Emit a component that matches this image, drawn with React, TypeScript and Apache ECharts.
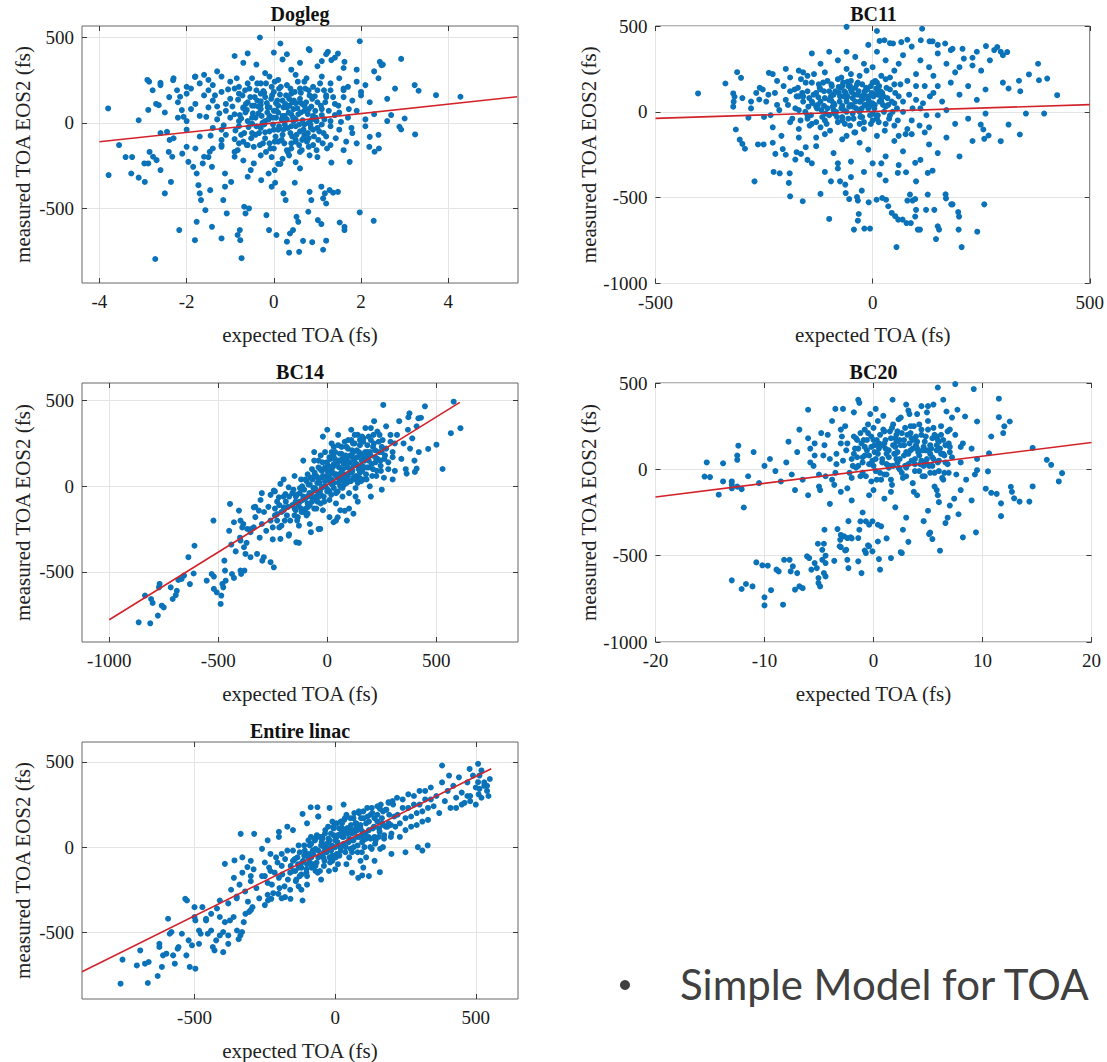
import React, { useEffect, useRef } from "react";
import * as echarts from "echarts";

const FONT = '"Liberation Serif", "Times New Roman", serif';

// ---------- Dogleg ----------
const doglegTitle = "Dogleg";
const doglegXTicks = [-4, -2, 0, 2, 4];
const doglegYTicks = [-500, 0, 500];
const doglegFit = [[-4, -111], [5.58, 152]];
const doglegPoints = [
  [-3.8,84],[-3.79,-305],[-3.55,-130],[-3.4,-200],[-3.25,-200],[-3.27,-296],[-3.1,15],[-3.1,-320],[-2.96,-345],[-2.97,-237],
  [-2.88,-237],[-2.86,240],[-2.88,75],[-2.78,190],[-2.85,-170],[-2.77,-198],[-2.69,-218],[-2.72,-795],[-2.6,-276],[-2.64,103],
  [-2.6,233],[-2.5,-412],[-2.45,-53],[-2.39,-100],[-2.41,-170],[-2.33,-198],[-2.31,249],[-2.36,-345],[-2.17,-626],[-2.22,190],
  [-2.15,152],[-2.11,74],[-2.07,35],[-2.0,-140],[-1.96,-228],[-1.81,-685],[-1.77,-578],[-1.81,268],[-1.77,-296],[-1.7,-412],
  [-1.67,-451],[-1.73,-364],[-1.63,-237],[-1.6,-198],[-1.57,-510],[-1.42,-607],[-1.46,-393],[-1.2,-675],[-1.08,-529],[-1.12,-373],
  [-0.9,-198],[-0.83,-160],[-0.8,-120],[-0.77,-685],[-0.83,-655],[-0.78,-626],[-0.74,-790],[-0.68,-490],[-0.65,-529],[-0.57,-500],
  [-0.32,498],[-0.11,-626],[0.06,-655],[-0.17,-539],[-0.29,-335],[0.15,463],[0.35,-758],[0.3,-694],[0.22,-412],[0.27,-451],
  [0.03,-350],[-0.05,-373],[-0.12,-296],[0.02,-276],[-0.46,-237],[-0.53,-276],[-0.6,-315],[-0.98,-345],[-1.16,-451],[-1.12,-296],
  [-1.42,-257],[-1.2,-130],[-1.47,-169],[-1.85,-257],
  [1.97,476],[1.97,-523],[2.29,-572],[2.92,373],[3.23,220],[3.32,187],[3.72,161],[4.28,152],[3.24,-68],[3.0,25],
  [2.88,-23],[2.92,-39],[2.69,45],[2.78,200],[2.43,356],[2.47,336],[2.31,-169],[2.41,-150],[2.19,-140],[2.2,-82],
  [1.74,-228],[1.32,-232],[1.47,-403],[1.36,-408],[1.17,-412],[1.13,-441],[1.28,-393],[1.09,-373],[1.2,-471],[1.51,-582],
  [1.62,-626],[1.62,-607],[1.13,-741],[1.2,-688],[0.82,-403],[0.86,-451],[0.79,-519],[1.01,-568],[1.09,-591],[0.67,-689],
  [0.88,-697],[0.52,-549],[0.56,-578],[0.44,-626],[0.37,-646],[0.58,-753],[0.48,-350],[0.6,-266],[0.82,424],[1.24,414],
  [1.47,404],[1.32,366],[1.62,356],
  [-1.3,300],[-0.9,390],[-0.6,405],[-0.4,340],[-0.2,290],[0.0,410],[0.2,370],[0.4,310],[0.6,350],[0.8,430],
  [1.0,330],[1.2,400],[1.4,380],[1.6,320],[-1.6,280],[-1.8,270],[-0.7,350],[0.3,400],[1.1,360],[2.5,340],[2.3,300],[1.9,310],
  [-2.3,260],[-2.0,210],[-1.7,230],[-1.5,250],[-1.2,270],[-1.0,240],[-0.8,210],[-0.5,260],[-0.3,230],[-0.1,270],
  [0.1,250],[0.3,220],[0.5,280],[0.7,240],[0.9,210],[1.1,270],[1.3,230],[1.5,260],[1.7,210],[1.9,240],
  [2.1,220],[2.4,260],[-1.9,200],[-1.4,220],[-0.6,230],[0.6,200],[1.6,190],[2.0,180],[-2.6,220],[-2.9,250],
  [-2.4,150],[-2.2,120],[-2.0,170],[-1.8,110],[-1.6,160],[-1.4,130],[-1.2,180],[-1.0,140],[-0.8,170],[-0.6,120],
  [-0.4,190],[-0.2,150],[0.0,180],[0.2,130],[0.4,170],[0.6,140],[0.8,190],[1.0,120],[1.2,160],[1.4,110],
  [1.6,150],[1.8,130],[2.0,160],[2.2,120],[2.6,140],[-1.1,110],[-0.3,105],[0.5,115],[1.3,190],[-2.7,110],[-0.9,200],[0.1,100],[0.9,150],
  [-2.5,60],[-2.2,30],[-1.9,80],[-1.7,40],[-1.5,90],[-1.3,20],[-1.1,70],[-0.9,50],[-0.7,90],[-0.5,30],
  [-0.3,80],[-0.1,40],[0.1,60],[0.3,90],[0.5,20],[0.7,70],[0.9,40],[1.1,80],[1.3,10],[1.5,60],
  [1.7,30],[1.9,70],[2.1,20],[2.3,50],[2.6,10],[-0.2,10],[0.4,50],[-0.8,10],[0.8,0],[1.4,45],[-2.0,10],
  [-2.6,-60],[-2.3,-90],[-2.0,-40],[-1.7,-80],[-1.4,-30],[-1.1,-70],[-0.8,-20],[-0.5,-60],[-0.2,-90],[0.0,-40],
  [0.2,-70],[0.4,-20],[0.6,-50],[0.8,-90],[1.0,-30],[1.2,-80],[1.5,-40],[1.8,-60],[2.1,-20],[2.4,-70],
  [0.5,-100],[-0.3,-30],[0.7,-10],[-1.2,-100],
  [-2.1,-180],[-1.8,-150],[-1.5,-200],[-1.2,-140],[-0.9,-170],[-0.6,-130],[-0.3,-190],[0.0,-150],[0.2,-210],[0.4,-120],
  [0.6,-170],[0.8,-140],[1.0,-200],[1.3,-130],[1.6,-160],[0.1,-240],[-0.1,-120],[0.5,-230],[-0.7,-220],[1.9,-120],
  [-0.15,60],[0.05,30],[0.25,-10],[0.45,80],[0.65,110],[-0.45,100],[-0.65,60],[0.85,-30],[0.35,140],[-0.05,210],
  [-1.55,35],[-1.45,-75],[-1.35,160],[-1.25,55],[-1.15,-15],[-1.05,195],[-0.95,95],[-0.88,-45],[-0.82,135],[-0.75,25],
  [-0.7,-110],[-0.66,190],[-0.62,75],[-0.58,-25],[-0.54,150],[-0.5,100],[-0.46,-140],[-0.42,30],[-0.38,230],[-0.34,-60],
  [-0.3,125],[-0.26,0],[-0.22,175],[-0.18,-170],[-0.14,90],[-0.1,-50],[-0.06,140],[-0.02,-10],[0.02,240],[0.06,70],
  [0.1,-110],[0.14,165],[0.18,20],[0.22,-40],[0.26,110],[0.3,-160],[0.34,60],[0.38,200],[0.42,-80],[0.46,130],
  [0.5,-20],[0.54,85],[0.58,-130],[0.62,175],[0.66,15],[0.7,-70],[0.74,120],[0.78,50],[0.82,-190],[0.86,95],
  [0.9,-40],[0.94,155],[0.98,10],[1.02,-100],[1.06,230],[1.1,45],[1.14,-60],[1.18,120],[1.22,-150],[1.26,70],
  [1.3,-20],[1.36,150],[1.42,-90],[1.48,100],[1.54,5],[1.6,200],[1.66,-110],[1.72,80],[1.78,-30],[-1.5,190],
  [-1.4,-150],[-1.3,95],[-1.2,-40],[-1.0,30],[-0.9,-95],[-0.85,260],[0.15,-240],[0.35,-190],[-0.05,-200],[0.55,240],
  [0.75,260],[-0.25,-120],[0.45,10],[0.25,40],[-0.35,55],[0.65,-100],[0.95,70],[-0.75,-70],[1.15,190],[0.05,115],
  [-0.78,45],[-0.72,160],[-0.68,-60],[-0.64,110],[-0.6,10],[-0.56,200],[-0.52,-90],[-0.48,55],[-0.44,150],[-0.4,-20],
  [-0.36,95],[-0.32,-130],[-0.28,40],[-0.24,185],[-0.2,-55],[-0.16,115],[-0.12,20],[-0.08,-150],[-0.04,160],[0,70],
  [0.04,-80],[0.08,130],[0.12,-20],[0.16,210],[0.2,40],[0.24,-120],[0.28,160],[0.32,-30],[0.36,100],[0.4,-150],
  [0.44,30],[0.48,180],[0.52,-70],[0.56,50],[0.6,120],[0.64,-160],[0.68,-40],[0.72,200],[0.76,-110],[0.8,80],
  [0.84,-10],[0.88,140],[0.92,-80],[0.96,30],[1.0,190],[1.04,-50],[1.08,100],[1.12,-120],[1.16,20],[1.2,150],
  [-0.7,85],[-0.5,-5],[-0.3,170],[-0.1,90],[0.1,-40],[0.3,20],[0.5,-110],[0.7,100],[0.9,-130],[1.1,-10],
  [-0.62,-130],[-0.42,-70],[-0.22,-10],[-0.02,30],[0.18,-100],[0.38,-60],[0.58,-10],[0.78,-60],[0.98,-160],[0.22,90],
  [0.42,120],[0.62,60],[0.82,160],[-0.18,230],[0.02,-110],[-0.38,130],[0.68,-90],[0.88,20],[0.32,-170],[0.12,200],
];

// ---------- BC11 ----------
const bc11Title = "BC11";
const bc11XTicks = [-500, 0, 500];
const bc11YTicks = [-1000, -500, 0, 500];
const bc11Fit = [[-500, -38], [500, 42]];
const bc11Points = [
  [-402,107],[-339,165],[-312,231],[-303,198],[-321,107],[-318,88],[-320,59],[-321,30],[-315,-103],[-306,-162],
  [-300,-187],[-294,-215],[-286,-34],[-272,-405],[-264,-190],[-251,-190],[-239,227],[-228,-350],[-214,-358],[-224,-245],
  [-207,-217],[-193,-414],[-191,-358],[-190,-492],[-178,-278],[-175,-235],[-161,-521],[-165,-245],[-154,-206],[-261,72],[-268,110],[-253,130],
  [-120,-478],[-100,-624],[-96,-405],[-75,-405],[-63,-424],[-62,-473],[-54,-508],[-36,-496],[-43,-686],[-34,-517],
  [-32,-595],[-34,-634],[-19,-680],[-6,-680],[-25,-459],[-9,-527],[9,-512],[22,-502],[31,-512],[36,-550],
  [44,-589],[52,-608],[59,-628],[69,-628],[78,-648],[88,-648],[55,-788],[92,-517],[98,-508],[104,-686],
  [80,-517],[86,-482],[100,-571],[98,-610],[123,-571],[127,-482],[142,-571],[109,-686],[150,-667],[153,-686],
  [146,-741],[199,-610],[205,-788],[198,-686],[169,-504],[184,-539],[241,-698],[257,-539],[77,-352],[98,-297],
  [127,-356],[138,-343],[100,-405],[58,-356],[16,-366],[168,-480],[181,-539],[197,-584],
  [-80,-330],[-50,-380],[-20,-350],[0,-300],[30,-400],[-110,-350],[-140,-300],[60,-310],
  [167,398],[184,367],[207,367],[230,315],[261,383],[287,377],[295,350],[310,348],[360,218],[381,280],
  [383,184],[402,194],[425,97],[353,-10],[395,-10],[339,-132],[313,-74],[295,-171],[267,-138],[255,-103],
  [249,-74],[257,-157],[337,181],[313,136],[114,484],[10,471],[16,413],[27,417],[47,398],[66,406],
  [111,417],[131,411],[138,411],[-60,495],
  [-230,220],[-200,250],[-170,240],[-150,210],[-120,280],[-100,350],[-80,300],[-60,250],[-40,320],[-20,280],
  [0,260],[10,350],[30,300],[50,240],[70,330],[90,380],[110,300],[130,260],[150,340],[170,280],
  [190,230],[210,310],[230,270],[250,240],[270,300],[-110,230],[-50,220],[20,210],[60,280],[100,220],
  [140,210],[200,260],[-60,350],[-140,340],[-10,390],[150,390],[40,400],[80,420],[180,360],[240,350],[280,360],[300,330],
  [-300,80],[-280,60],[-260,140],[-240,100],[-220,180],[-200,70],[-180,130],[-160,90],[-140,170],[-120,60],
  [-100,120],[-80,190],[-60,80],[-40,140],[-20,100],[0,170],[20,60],[40,130],[60,90],[80,180],
  [100,70],[120,150],[140,110],[160,60],[180,170],[200,100],[220,150],[260,130],[300,170],[340,120],
  [-90,50],[-30,60],[10,110],[-130,110],[-70,150],[-10,70],[50,50],[150,150],[240,70],[-190,200],[-50,180],[30,190],
  [-280,20],[-250,-30],[-220,40],[-190,-60],[-170,10],[-150,-20],[-130,30],[-110,-50],[-90,10],[-70,-30],
  [-50,40],[-30,-70],[-10,20],[10,-40],[30,30],[50,-80],[70,0],[90,-50],[110,20],[130,-90],
  [150,-20],[170,10],[190,-70],[220,-40],[260,-10],[-60,0],[0,-10],[40,-20],[-120,-90],[-20,-100],[80,-100],
  [-230,-180],[-200,-250],[-170,-150],[-150,-280],[-130,-200],[-110,-130],[-90,-240],[-70,-160],[-50,-290],[-30,-180],
  [-10,-220],[10,-140],[30,-260],[50,-170],[70,-230],[90,-130],[110,-280],[130,-190],[150,-240],[170,-150],
  [200,-260],[230,-170],[-40,-120],[20,-300],[60,-140],[-80,-300],[120,-120],
  [-75,90],[-45,30],[-15,140],[5,40],[-95,160],[25,90],[-35,100],[-65,120],[-25,20],[15,150],
  [-245,60],[-235,-20],[-225,110],[-215,10],[-205,150],[-195,40],[-185,-40],[-175,90],[-165,190],[-155,0],
  [-150,120],[-145,-80],[-140,60],[-135,220],[-128,20],[-122,140],[-116,-30],[-110,80],[-104,180],[-98,-110],
  [-92,30],[-86,120],[-80,-60],[-76,60],[-72,200],[-66,10],[-62,110],[-56,-40],[-52,150],[-46,80],
  [-42,-120],[-38,20],[-34,170],[-28,60],[-24,-30],[-18,120],[-14,240],[-8,30],[-4,-70],[2,90],
  [6,180],[12,-20],[18,120],[24,40],[28,-110],[34,80],[40,200],[46,0],[52,110],[58,-50],
  [64,160],[70,60],[76,-130],[84,100],[92,20],[100,150],[108,-80],[116,50],[124,-20],[132,90],
  [-230,-90],[-210,-140],[-190,120],[-170,-100],[-160,230],[-130,-150],[-100,-20],[-60,-140],[-30,210],[0,50],
  [-125,85],[-95,65],[-70,35],[-48,115],[-22,75],[8,135],[-58,175],[-88,-10],[-112,35],[-78,145],
  [-178,20],[-172,140],[-166,-50],[-160,60],[-154,170],[-148,30],[-142,-20],[-136,100],[-130,-60],[-124,160],
  [-118,10],[-112,120],[-106,-70],[-100,70],[-94,150],[-88,40],[-82,-30],[-78,110],[-72,20],[-68,170],
  [-64,-70],[-58,90],[-54,30],[-50,130],[-44,-40],[-40,60],[-36,160],[-30,0],[-26,90],[-20,-60],
  [-16,40],[-12,130],[-6,-20],[-2,110],[4,20],[10,170],[14,-60],[20,80],[26,0],[32,140],
  [38,-40],[44,60],[50,160],[56,20],[-170,90],[-150,-40],[-138,50],[-120,130],[-108,-10],[-96,90],
  [-84,0],[-74,140],[-60,60],[-46,-10],[-32,120],[-18,40],[-4,150],[8,-20],[22,110],[36,40],
  [-162,110],[-146,80],[-126,40],[-114,170],[-90,100],[-70,-50],[-56,150],[-42,100],[-28,-30],[-10,90],
  [0,-50],[16,60],[30,-70],[-140,-70],[-104,20],[-66,90],[-52,-80],[-24,160],[-8,60],[12,100],
];

// ---------- BC14 ----------
const bc14Title = "BC14";
const bc14XTicks = [-1000, -500, 0, 500];
const bc14YTicks = [-500, 0, 500];
const bc14Fit = [[-1000, -779], [608, 490]];
const bc14Points = [
  [-865,-794],[-812,-800],[-836,-638],[-808,-658],[-801,-681],[-772,-590],[-769,-570],[-777,-755],[-759,-697],[-750,-707],
  [-718,-590],[-709,-658],[-695,-635],[-690,-610],[-683,-547],[-668,-541],[-657,-521],[-637,-414],[-630,-571],[-613,-509],
  [-609,-347],[-553,-551],[-530,-512],[-520,-527],[-520,-599],[-507,-619],[-489,-687],[-477,-590],[-481,-570],[-466,-551],
  [-486,-638],[-522,-200],[-469,-492],[-472,-434],[-446,-103],[-428,-210],[-405,-142],[-398,-200],[-385,-220],[-367,-249],
  [-352,-268],[-337,-240],[-398,-317],[-382,-356],[-375,-395],[-352,-414],[-322,-395],[-298,-434],[-291,-414],[-437,-512],
  [-428,-535],[-398,-492],[-395,-512],[-380,-492],[-337,-123],[-314,-142],[-306,-80],[-245,-25],[-215,14],[-222,-64],
  [-192,-45],[-177,-6],[-230,-162],[-199,-123],[-260,-443],[-245,-473],[-215,-307],[-177,-288],
  [580,494],[611,339],[567,310],[529,101],[463,218],[501,243],[448,467],[418,397],[377,426],[372,403],
  [257,475],[402,84],[410,103],[364,74],[90,-200],[80,-143],[29,-210],[48,-181],[-75,-268],[-142,-327],[-32,-249],
  [-350,-250],[-330,-180],[-310,-300],[-300,-220],[-290,-150],[-280,-260],[-270,-120],[-260,-200],[-250,-310],[-240,-170],
  [-230,-90],[-220,-240],[-210,-150],[-200,-60],[-195,-200],[-180,-120],[-175,-280],[-160,-40],[-150,-170],[-145,-90],
  [-130,-230],[-125,-10],[-120,-130],[-110,-60],[-100,40],[-95,-170],[-90,-100],[-80,10],[-75,-60],[-70,100],
  [-60,-130],[-55,-20],[-50,60],[-45,-90],[-40,150],[-35,20],[-30,-50],[-25,90],[-20,-140],[-15,0],
  [-10,200],[-5,60],[0,-30],[5,120],[10,-80],[15,30],[20,250],[25,80],[30,-10],[35,160],
  [40,-100],[45,50],[50,300],[55,110],[60,0],[65,190],[70,-60],[75,70],[80,260],[85,140],
  [90,20],[95,220],[100,-40],[105,100],[110,330],[115,170],[120,50],[125,250],[130,-10],[135,130],
  [140,300],[145,200],[150,80],[155,30],[160,180],[165,260],[170,110],[175,340],[180,40],[185,200],
  [190,150],[195,0],[200,270],[210,100],[215,380],[220,210],[225,60],[230,160],[240,300],[245,120],
  [250,230],[260,50],[265,180],[270,350],[280,140],[290,260],[300,200],[310,90],[320,300],[330,380],
  [340,160],[350,250],[360,100],[370,330],[380,220],[390,280],[400,150],[410,350],[420,200],[430,400],
  [-60,200],[-20,290],[0,330],[30,230],[-110,150],[-150,60],[-200,40],[-240,-30],[-260,-50],[-300,-40],
  [-330,-120],[-370,-330],[-390,-240],[-400,-300],[-420,-380],[-450,-260],[-440,-340],[10,-180],[60,-140],[100,-130],
  [140,-90],[200,-60],[250,-20],[300,40],[-80,-220],[-40,-250],[-130,-330],[120,-160],[40,-200],
  [20,40],[45,130],[70,160],[95,60],[115,90],[140,20],[160,120],[-10,110],[10,170],[60,70],
  [-250,-240],[-240,-130],[-230,-200],[-220,-110],[-210,-230],[-200,-140],[-190,-90],[-185,-170],[-175,-60],[-170,-200],
  [-160,-110],[-155,-20],[-145,-140],[-140,-50],[-135,-180],[-125,-90],[-115,0],[-110,-150],[-100,-70],[-95,30],
  [-88,-120],[-82,-40],[-76,50],[-70,-90],[-64,-10],[-58,80],[-52,-60],[-46,20],[-40,110],[-34,-30],
  [-28,50],[-22,140],[-16,-60],[-10,30],[-4,100],[2,-20],[8,60],[14,160],[18,-50],[24,110],
  [30,20],[36,200],[42,70],[48,-30],[54,150],[60,40],[66,230],[72,100],[78,10],[84,180],
  [90,70],[96,270],[102,140],[108,30],[114,210],[120,120],[126,300],[132,60],[138,170],[144,100],
  [150,240],[158,150],[166,40],[174,200],[182,110],[190,290],[198,180],[206,60],[214,250],[222,140],
  [230,320],[238,200],[246,90],[254,270],[262,160],[270,220],[280,100],[290,300],[300,170],[310,250],
  [-30,180],[-60,150],[-90,70],[20,200],[50,240],[110,270],[-120,40],[160,290],[200,340],[130,-60],
  [-150,-130],[-144,-60],[-138,-200],[-132,-110],[-126,-40],[-118,-150],[-112,-80],[-106,-20],[-98,-130],[-92,-60],
  [-86,10],[-80,-110],[-74,-40],[-68,40],[-62,-80],[-56,-10],[-50,-130],[-44,50],[-38,-60],[-32,100],
  [-26,-10],[-20,60],[-14,-90],[-8,0],[-2,140],[4,40],[10,-30],[16,90],[22,10],[28,180],
  [34,70],[40,-40],[46,120],[52,20],[58,190],[64,80],[70,-10],[76,130],[82,50],[88,230],
  [94,110],[100,30],[106,180],[112,80],[118,250],[124,150],[130,40],[136,210],[142,120],[148,50],
  [154,190],[160,90],[166,280],[172,150],[178,70],[184,240],[190,110],[196,200],[204,130],[212,300],
  [220,170],[228,90],[236,260],[244,150],[250,200],[-120,-10],[-90,-160],[-60,60],[-30,-100],[0,90],
  [30,130],[60,150],[90,160],[120,200],[150,270],[180,170],[210,230],[-45,-30],[15,20],[75,30],
];

// ---------- BC20 ----------
const bc20Title = "BC20";
const bc20XTicks = [-20, -10, 0, 10, 20];
const bc20YTicks = [-1000, -500, 0, 500];
const bc20Fit = [[-20, -160], [20, 155]];
const bc20Points = [
  [-13,-643],[-12.1,-693],[-11.7,-664],[-11.1,-678],[-10.75,-539],[-10.2,-556],[-9.7,-558],[-10.0,-741],[-10.0,-788],[-9.4,-700],
  [-8.9,-581],[-8.7,-591],[-8.2,-524],[-7.7,-524],[-7.6,-591],[-7.4,-562],[-7.0,-601],[-6.8,-678],[-6.5,-688],[-7.2,-697],
  [-8.3,-784],[-6.1,-504],[-5.9,-514],[-5.7,-581],[-5.4,-543],[-5.2,-572],[-5.1,-431],[-4.55,-431],[-4.7,-466],[-4.4,-500],
  [-4.7,-524],[-4.4,-543],[-4.55,-601],[-4.4,-620],[-5.05,-659],[-4.9,-678],[-5.05,-630],[-3.1,-446],[-3.05,-408],[-2.5,-466],
  [-2.4,-524],[-2.3,-572],[-1.4,-533],[-1.1,-601],[-0.7,-485],[-0.4,-446],[-0.1,-475],[0.4,-418],[0.6,-581],[1.6,-514],
  [2.6,-485],[-3.3,-346],[-2.7,-388],[-2.4,-398],[-2.1,-394],[-1.4,-398],[-1.2,-301],[-0.7,-301],[-0.4,-321],[-0.1,-301],[0.4,-321],
  [9.2,465],[7.5,494],[5.9,474],[11.5,409],[11.5,302],[12.5,277],[12.0,249],[11.9,210],[10.8,190],[10.6,93],
  [10.5,-12],[10.3,-112],[10.8,-136],[11.3,-142],[11.7,-271],[11.7,-197],[12.6,-101],[12.7,-130],[12.9,-168],[13.4,-187],
  [14.3,-187],[14.6,-99],[14.6,124],[15.9,55],[16.3,26],[17.0,-70],[17.3,-22],[9.3,-30],[9.5,-5],[9.4,-365],
  [8.2,-394],[6.6,-311],[6.1,-471],[5.1,-375],[5.2,-366],[5.4,-404],
  [-15.3,40],[-15,-45],[-15.5,-42],[-14.2,-147],[-13.8,35],[-13.8,-70],[-13,-70],[-13,-90],[-13,-110],[-12.4,137],
  [-12.5,80],[-12.5,55],[-12.5,-100],[-12.1,-115],[-11.9,-221],
  [-1.4,403],[-1.3,385],[-6,345],[-3.5,350],[-2.8,350],[1.75,403],[3.0,375],[4.4,366],[5.0,366],[5.5,375],
  [6.4,403],[6.7,335],[7.7,345],[8.4,306],[9.5,277],
  [-8,40],[-7.5,-30],[-7,100],[-6.5,-60],[-6,180],[-5.5,20],[-5,-100],[-4.5,140],[-4,60],[-3.5,-20],
  [-3,230],[-2.5,110],[-2,-50],[-1.5,170],[-1,70],[-0.5,260],[0,20],[0.5,150],[1,-30],[1.5,220],
  [2,90],[2.5,300],[3,10],[3.5,180],[4,120],[4.5,-40],[5,230],[5.5,60],[6,160],[6.5,-20],
  [7,100],[7.5,200],[8,40],[8.5,-60],[9,120],[9.5,60],[-9,-10],[-9.5,60],[-10,20],[-10.5,-80],
  [-11,100],[-11.5,-40],[-8.5,-70],[-7.8,160],[-6.8,230],[-5.8,120],[-4.8,210],[-3.8,280],[-2.8,50],[-1.8,330],
  [-0.8,130],[0.2,350],[1.2,90],[2.2,40],[3.2,340],[4.2,260],[5.2,140],[6.2,250],[7.2,300],[8.2,150],
  [-6,-150],[-4,-200],[-2,-180],[0,-120],[2,-220],[4,-150],[6,-190],[8,-120],[-1,-250],[3,-280],
  [5,-240],[7,-210],[-3,-130],[1,-170],[9,-180],[7.8,-260],[6.8,-280],[5.8,-120],[-2.3,-300],[-1.3,-350],
  [0.7,-330],[2.7,-350],[4.6,-300],[-3,-380],[-2,-400],[-0.5,-440],[1.2,-400],[3.2,-420],[0.5,-520],[-0.8,-470],
  [-3,-450],[2.5,-480],[-4.5,-350],[-3.6,-530],[-2.6,-470],
  [0.8,60],[1.8,140],[2.8,80],[3.8,30],[4.8,110],[5.8,190],[1.4,10],[2.4,170],[3.4,110],[4.4,50],
  [5.4,20],[6.4,90],[-0.4,80],[-1.4,20],[-2.4,150],[-3.4,90],[-4.4,-40],[-5.4,80],[0.3,-60],[1.7,-90],
  [3.6,-80],[5.6,-100],[2.1,200],[3.9,190],[5.9,40],[1.1,120],[-0.2,190],[4.7,160],[6.9,150],[2.9,240],
  [-5.8,40],[-5.4,150],[-5,-30],[-4.6,80],[-4.2,200],[-3.8,-60],[-3.4,30],[-3,150],[-2.6,250],[-2.2,-20],
  [-1.8,90],[-1.6,180],[-1.2,-40],[-1,40],[-0.8,230],[-0.6,110],[-0.2,-70],[0,170],[0.2,60],[0.4,280],
  [0.6,-20],[0.8,140],[1,220],[1.2,30],[1.4,110],[1.6,-60],[1.8,260],[2,180],[2.2,100],[2.4,0],
  [2.6,210],[2.8,140],[3,-40],[3.2,90],[3.4,250],[3.6,170],[3.8,60],[4,320],[4.2,-10],[4.4,200],
  [4.6,130],[4.8,40],[5,280],[5.2,90],[5.4,180],[5.6,-20],[5.8,110],[6,50],[6.2,200],[6.4,-60],
  [6.6,140],[6.8,30],[7,230],[7.2,70],[7.6,-30],[8,130],[-2.9,190],[-1.9,20],[-0.9,170],[0.1,100],
  [1.1,170],[2.1,60],[3.1,200],[4.1,100],[5.1,20],[6.1,120],[-3.6,-90],[-4.9,-120],[-2.4,-110],[-0.4,-150],
  [1.6,-130],[3.7,-130],[5.9,-150],[7.4,-170],[-7.2,-120],[0.9,310],[2.3,290],[3.3,320],[-0.3,320],[4.9,330],
  [-2,60],[-1.8,190],[-1.6,10],[-1.4,120],[-1.2,210],[-1,-20],[-0.8,80],[-0.6,170],[-0.4,30],[-0.2,130],
  [0,240],[0.2,-10],[0.4,90],[0.6,200],[0.8,40],[1,150],[1.2,-30],[1.4,70],[1.6,180],[1.8,20],
  [2,130],[2.2,220],[2.4,60],[2.6,-20],[2.8,170],[3,100],[3.2,30],[3.4,210],[3.6,120],[3.8,-10],
  [4,160],[4.2,80],[4.4,230],[4.6,20],[4.8,190],[5,110],[5.2,-20],[5.4,70],[5.6,200],[5.8,140],
  [6,-10],[6.2,90],[6.4,170],[6.6,40],[6.8,220],[7,130],[-1.5,70],[-0.5,210],[0.5,120],[1.5,20],
  [2.5,140],[3.5,50],[4.5,110],[5.5,240],[6.5,80],[-1.1,150],[-0.1,50],[0.9,230],[1.9,90],[2.9,20],
  [3.9,140],[4.9,60],[5.9,170],[6.9,-20],[0.3,170],[1.3,110],[2.3,10],[3.3,150],[4.3,30],[5.3,120],
  [-0.7,-40],[0.7,-60],[2.7,-50],[4.7,-40],[6.3,-50],[1.7,240],[3.7,250],[-1.7,120],[0.1,140],[2.1,160],
];

// ---------- Entire linac ----------
const linacTitle = "Entire linac";
const linacXTicks = [-500, 0, 500];
const linacYTicks = [-500, 0, 500];
const linacFit = [[-900, -731], [555, 460]];
const linacPoints = [
  [-763,-801],[-756,-660],[-705,-694],[-693,-606],[-666,-797],[-676,-684],[-663,-674],[-631,-756],[-625,-567],[-625,-586],
  [-616,-703],[-612,-635],[-600,-625],[-594,-420],[-582,-498],[-588,-508],[-576,-635],[-570,-684],[-560,-596],[-557,-586],
  [-545,-508],[-529,-635],[-521,-547],[-517,-703],[-533,-303],[-527,-313],[-500,-352],[-500,-410],[-497,-430],[-497,-713],
  [-484,-489],[-478,-508],[-484,-567],[-509,-576],[-459,-420],[-453,-508],[-441,-489],[-435,-586],[-429,-606],[-423,-547],
  [-410,-518],[-398,-498],[-398,-616],[-380,-567],[-380,-518],[-472,-352],[-459,-430],[-441,-391],[-410,-410],[-392,-440],
  [-374,-430],[-361,-410],[-349,-489],[-343,-540],[-337,-518],[-331,-498],[-325,-440],[-319,-391],[-410,-313],[-392,-98],
  [-358,-78],[-336,78],[-288,78],[-312,-117],[-306,-380],[-294,-352],[-239,-313],[-227,-303],[-202,-274],[-178,-293],
  [-159,-303],[-116,-313],[-350,-300],[-420,-360],
  [-116,195],[-87,234],[-63,234],[-60,180],[159,225],[190,264],[294,0],[310,-20],[329,10],[159,-147],
  [82,-180],[96,-166],[380,479],[478,459],[508,489],[513,420],[508,381],[513,342],[405,420],[450,250],
  [480,270],[530,360],[540,330],[545,300],[520,290],[500,250],[470,300],[430,230],[-170,120],[-200,90],[-240,40],[-300,-170],
  [-380,-330],[-370,-250],[-360,-180],[-350,-290],[-340,-220],[-330,-150],[-320,-260],[-310,-320],[-300,-200],[-290,-130],
  [-280,-240],[-270,-300],[-260,-170],[-250,-90],[-240,-210],[-230,-140],[-220,-270],[-210,-60],[-200,-180],[-190,-110],
  [-180,-230],[-170,-20],[-160,-150],[-150,-80],[-140,-200],[-130,10],[-120,-120],[-110,-50],[-100,-170],[-95,40],
  [-90,-90],[-80,-20],[-70,-140],[-65,70],[-60,-60],[-50,10],[-40,-110],[-35,100],[-30,-30],[-20,40],
  [-10,-80],[-5,120],[0,0],[10,70],[15,-50],[20,150],[30,20],[40,-100],[45,110],[50,50],
  [60,-30],[65,170],[70,90],[80,10],[85,200],[90,130],[100,40],[110,-60],[115,180],[120,100],
  [130,230],[140,60],[150,150],[160,-10],[170,210],[180,120],[190,260],[200,80],[210,180],[220,290],
  [230,140],[240,230],[250,100],[260,310],[270,180],[280,250],[290,130],[300,330],[310,210],[320,280],
  [330,160],[340,350],[350,240],[360,300],[370,200],[380,380],[390,270],[400,330],[410,230],[420,360],
  [430,290],[440,410],[450,320],[460,260],[470,380],[480,300],[490,420],[500,350],[510,310],[520,450],
  [530,380],[540,360],[550,400],[-200,60],[-150,100],[-100,140],[-60,180],[-20,230],[30,250],[-230,-40],
  [-260,-10],[-300,-80],[-330,-60],[60,-150],[100,-120],[140,-80],[200,-40],[250,-30],[120,-170],[0,-130],
  [-50,-190],[-120,-250],[-190,-300],[-250,-340],[-300,-370],
  [-25,-10],[5,60],[35,90],[55,-10],[75,140],[95,70],[-45,50],[-85,-60],[25,110],[-15,80],
  [-250,-170],[-240,-280],[-235,-120],[-225,-220],[-215,-150],[-205,-90],[-198,-240],[-188,-160],[-178,-70],[-168,-190],
  [-158,-110],[-150,-20],[-142,-140],[-134,-60],[-126,-170],[-118,-90],[-110,10],[-102,-130],[-94,-40],[-86,60],
  [-78,-100],[-70,-10],[-62,-150],[-54,-50],[-46,60],[-38,-80],[-30,20],[-22,-140],[-14,-20],[-6,70],
  [2,-60],[8,30],[14,110],[20,-20],[26,60],[32,160],[38,0],[44,80],[50,-60],[56,130],
  [62,40],[68,200],[74,110],[80,-30],[86,60],[92,170],[98,90],[104,0],[110,140],[118,60],
  [126,190],[134,110],[142,20],[150,240],[158,90],[166,170],[174,50],[182,220],[190,140],[198,60],
  [206,250],[214,120],[222,190],[230,60],[240,280],[250,170],[260,230],[270,120],[280,300],[290,200],
  [300,250],[310,150],[320,330],[330,230],[340,280],[-190,-40],[-130,-230],[-70,50],[-10,150],[40,190],
  [90,-80],[130,-10],[170,0],[-20,-60],[10,-100],[-40,0],[60,100],[100,210],[-100,-220],[-160,-250],
  [-150,-140],[-144,-70],[-138,-190],[-132,-100],[-126,-30],[-120,-160],[-114,-80],[-108,-20],[-102,-150],[-96,-60],
  [-90,10],[-84,-120],[-78,-40],[-72,40],[-66,-90],[-60,-20],[-54,-140],[-48,30],[-42,-60],[-36,80],
  [-30,-10],[-24,50],[-18,-90],[-12,10],[-6,110],[0,40],[6,-40],[12,70],[18,0],[24,140],
  [30,60],[36,-30],[42,110],[48,30],[54,170],[60,80],[66,0],[72,140],[78,60],[84,210],
  [90,110],[96,30],[102,170],[108,80],[114,230],[120,150],[126,50],[132,200],[138,120],[144,40],
  [150,190],[156,110],[162,250],[168,140],[174,70],[180,220],[186,120],[192,190],[198,130],[204,270],
  [-130,-120],[-100,-100],[-70,-110],[-40,-30],[-10,-50],[20,80],[50,100],[80,100],[110,50],[140,170],
  [170,130],[-85,20],[-55,60],[-25,120],[5,140],[35,170],[65,40],[95,-30],[125,0],[155,60],
];

const panelLayouts = [
  { left: 82, top: 26, width: 436, height: 257, titleY: 14, yNameGap: 49 },
  { left: 655.5, top: 26, width: 436, height: 257.5, titleY: 14, yNameGap: 56 },
  { left: 82, top: 383, width: 436, height: 259, titleY: 372, yNameGap: 49 },
  { left: 655.5, top: 383, width: 436, height: 259, titleY: 372, yNameGap: 56 },
  { left: 82, top: 742, width: 436, height: 257, titleY: 731, yNameGap: 49 },
];

const panels = [
  { title: doglegTitle, points: doglegPoints, fit: doglegFit, xRange: [-4.4, 5.6], yRange: [-935, 565], xTicks: doglegXTicks, yTicks: doglegYTicks },
  { title: bc11Title, points: bc11Points, fit: bc11Fit, xRange: [-500, 500], yRange: [-1000, 500], xTicks: bc11XTicks, yTicks: bc11YTicks },
  { title: bc14Title, points: bc14Points, fit: bc14Fit, xRange: [-1125, 875], yRange: [-909, 603], xTicks: bc14XTicks, yTicks: bc14YTicks },
  { title: bc20Title, points: bc20Points, fit: bc20Fit, xRange: [-20, 20], yRange: [-1000, 500], xTicks: bc20XTicks, yTicks: bc20YTicks },
  { title: linacTitle, points: linacPoints, fit: linacFit, xRange: [-900, 650], yRange: [-891, 617], xTicks: linacXTicks, yTicks: linacYTicks },
];

const xName = "expected TOA (fs)";
const yName = "measured TOA EOS2 (fs)";
const bulletText = "Simple Model for TOA";

function buildOption() {
  const grid: any[] = [];
  const xAxis: any[] = [];
  const yAxis: any[] = [];
  const series: any[] = [];
  const graphic: any[] = [];
  const fmt = (v: number) => String(v);
  const tickColor = "#3a3a3a";
  const gridLine = { show: true, lineStyle: { color: "#e4e4e4", width: 1 } };
  const noLine = { show: false, onZero: false };

  panels.forEach((p, i) => {
    const L = panelLayouts[i];
    grid.push({ left: L.left, top: L.top, width: L.width, height: L.height, show: true, borderColor: "#666", borderWidth: 1, backgroundColor: "#fff" });
    xAxis.push({
      type: "value", gridIndex: i, min: p.xRange[0], max: p.xRange[1], position: "bottom",
      axisLine: noLine,
      axisTick: { show: true, inside: true, length: 5, customValues: p.xTicks, lineStyle: { color: tickColor } },
      axisLabel: { customValues: p.xTicks, formatter: fmt, color: "#1a1a1a", fontFamily: FONT, fontSize: 19, margin: 9 },
      splitLine: gridLine,
      name: xName, nameLocation: "middle", nameGap: 41,
      nameTextStyle: { fontFamily: FONT, fontSize: 21, color: "#222" },
    });
    xAxis.push({
      type: "value", gridIndex: i, min: p.xRange[0], max: p.xRange[1], position: "top",
      axisLine: noLine,
      axisTick: { show: true, inside: true, length: 5, customValues: p.xTicks, lineStyle: { color: tickColor } },
      axisLabel: { show: false }, splitLine: { show: false },
    });
    yAxis.push({
      type: "value", gridIndex: i, min: p.yRange[0], max: p.yRange[1], position: "left",
      axisLine: noLine,
      axisTick: { show: true, inside: true, length: 5, customValues: p.yTicks, lineStyle: { color: tickColor } },
      axisLabel: { customValues: p.yTicks, formatter: fmt, color: "#1a1a1a", fontFamily: FONT, fontSize: 19, margin: 8 },
      splitLine: gridLine,
      name: yName, nameLocation: "middle", nameGap: L.yNameGap, nameRotate: 90,
      nameTextStyle: { fontFamily: FONT, fontSize: 21, color: "#222" },
    });
    yAxis.push({
      type: "value", gridIndex: i, min: p.yRange[0], max: p.yRange[1], position: "right",
      axisLine: noLine,
      axisTick: { show: true, inside: true, length: 5, customValues: p.yTicks, lineStyle: { color: tickColor } },
      axisLabel: { show: false }, splitLine: { show: false },
    });
    series.push({
      type: "scatter", xAxisIndex: 2 * i, yAxisIndex: 2 * i, data: p.points,
      symbol: "circle", symbolSize: 6, itemStyle: { color: "#0a72b8", opacity: 1 }, silent: true, z: 2,
    });
    series.push({
      type: "line", xAxisIndex: 2 * i, yAxisIndex: 2 * i, data: p.fit, symbol: "none", showSymbol: false,
      lineStyle: { color: "#d3232a", width: 1.6 }, silent: true, z: 3,
    });
    graphic.push({
      type: "text", x: L.left + L.width / 2, y: L.titleY,
      style: { text: p.title, font: `bold 20px ${FONT}`, fill: "#111", textAlign: "center", textVerticalAlign: "middle" },
    });
  });

  graphic.push({ type: "circle", shape: { cx: 625, cy: 985, r: 5 }, style: { fill: "#404040" } });
  graphic.push({
    type: "text", x: 680, y: 984,
    style: { text: bulletText, font: '42px Lato, "Open Sans", sans-serif', fill: "#404040", textAlign: "left", textVerticalAlign: "middle" },
  });

  return { animation: false, backgroundColor: "#ffffff", grid, xAxis, yAxis, series, graphic };
}

export default function App() {
  const ref = useRef<HTMLDivElement>(null);
  useEffect(() => {
    if (!ref.current) return;
    const chart = echarts.init(ref.current, undefined, { renderer: "svg" });
    chart.setOption(buildOption() as any);
    return () => chart.dispose();
  }, []);
  return (
    <div
      ref={ref}
      style={{ position: "fixed", left: 0, top: 0, width: 1107, height: 1062, background: "#fff" }}
    />
  );
}
